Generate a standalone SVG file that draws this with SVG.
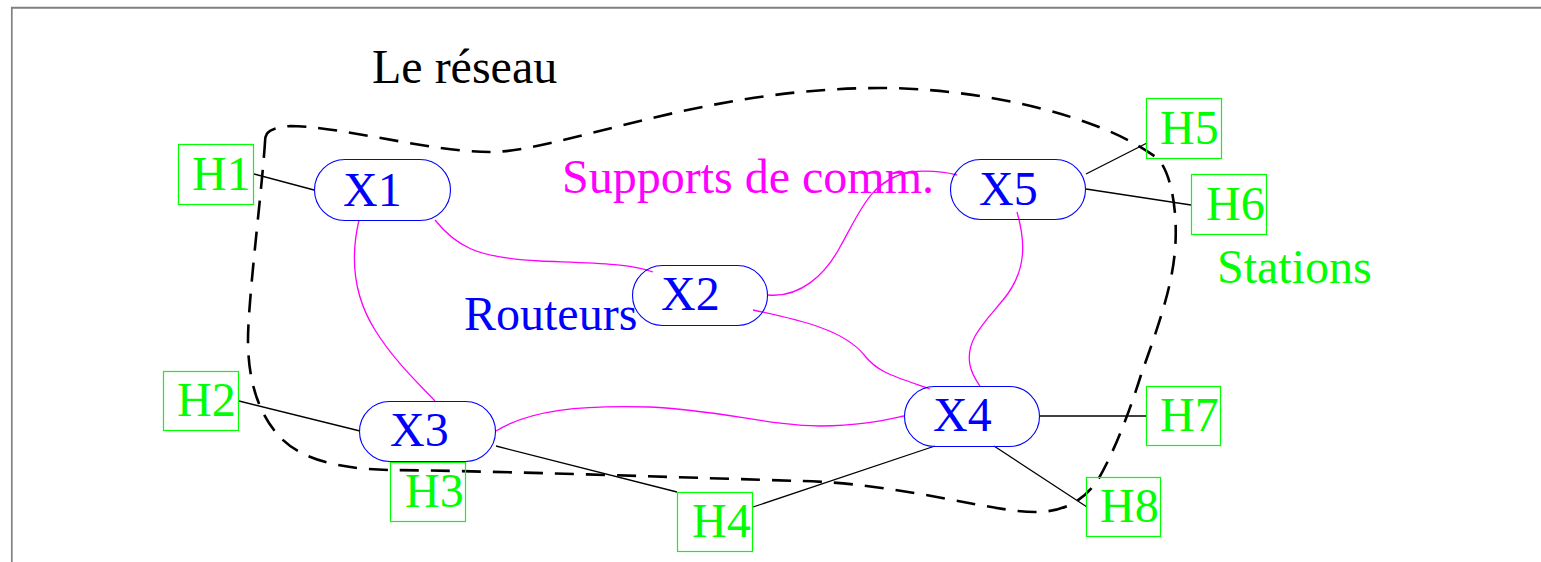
<svg xmlns="http://www.w3.org/2000/svg" width="1541" height="562" viewBox="0 0 1541 562">
<style>
text{font-family:"Liberation Serif","Times New Roman",serif;font-size:48px}
.h rect{fill:none;stroke:#00ff00;stroke-width:1.2}
.h text{fill:#00ff00}
.x rect{fill:none;stroke:#0000ff;stroke-width:1.1}
.x text{fill:#0000ff}
.m{fill:none;stroke:#ff00ff;stroke-width:1.3}
.k{fill:none;stroke:#000;stroke-width:1.3}
</style>
<rect width="1541" height="562" fill="#fff"/>
<g id="frame" stroke="#808080" fill="none">
<line x1="11" y1="7.7" x2="1541" y2="7.7" stroke-width="2"/>
<line x1="11.8" y1="7" x2="11.8" y2="562" stroke-width="1.7"/>
</g>
<g id="network-boundary">
<path d="M 265,142 C 265,133 268,128 290,126 C 340,126 430,152 490,152 C 560,152 700,88 880,88 C 980,88 1100,115 1157,158 C 1172,172 1178,215 1175,250 C 1172,290 1155,335 1141,375 C 1130,410 1115,450 1099,478 C 1085,500 1065,512 1035,512 C 990,512 900,483 800,481 C 700,478 500,471 390,470 C 340,469 300,460 278,435 C 258,412 248,380 248,340 C 248,300 262,190 265,142 Z" fill="none" stroke="#000" stroke-width="2.6" stroke-dasharray="19 12"/>
</g>
<g id="connectors">
<path class="m" d="M 435,220 C 455,245 475,258 540,261 C 590,263 630,263 653,272"/>
<path class="m" d="M 359,220 C 352,250 350,290 375,330 C 395,362 420,385 435,401"/>
<path class="m" d="M 768,295 C 800,298 825,275 840,247 C 860,212 870,180 910,172 C 930,170 945,172 957,175"/>
<path class="m" d="M 753,310 C 800,320 845,330 865,356 C 878,372 890,375 930,389"/>
<path class="m" d="M 496,431 C 530,410 580,405 650,407 C 720,410 770,426 820,426 C 860,426 885,420 904,416"/>
<path class="m" d="M 1017,212 C 1025,240 1028,270 1003,300 C 985,322 965,340 970,365 C 972,375 976,380 980,386"/>
<line class="k" x1="254" y1="174" x2="314" y2="190"/>
<line class="k" x1="239" y1="401" x2="360" y2="431"/>
<line class="k" x1="496" y1="446" x2="677" y2="492"/>
<line class="k" x1="753" y1="507" x2="935" y2="446"/>
<line class="k" x1="994" y1="446" x2="1087" y2="507"/>
<line class="k" x1="1040" y1="416" x2="1146" y2="416"/>
<line class="k" x1="1086" y1="174" x2="1147" y2="143"/>
<line class="k" x1="1086" y1="189" x2="1191" y2="205"/>
</g>
<g id="X1" class="x"><rect x="314.5" y="159.5" width="136" height="61" rx="30.5"/><text x="343" y="206">X1</text></g>
<g id="X2" class="x"><rect x="632.5" y="265.5" width="135" height="60" rx="30"/><text x="661" y="310">X2</text></g>
<g id="X3" class="x"><rect x="359.5" y="401.5" width="136" height="60" rx="30"/><text x="390" y="446">X3</text></g>
<g id="X4" class="x"><rect x="904.5" y="386.5" width="135" height="60" rx="30"/><text x="933" y="431">X4</text></g>
<g id="X5" class="x"><rect x="950.5" y="159.5" width="135" height="60" rx="30"/><text x="979" y="205">X5</text></g>
<g id="H1" class="h"><rect x="178.5" y="144.5" width="75" height="60"/><text x="192" y="190">H1</text></g>
<g id="H2" class="h"><rect x="163.5" y="371.5" width="75" height="59"/><text x="177" y="416">H2</text></g>
<g id="H3" class="h"><rect x="390.5" y="462.5" width="75" height="59"/><text x="405" y="507">H3</text></g>
<g id="H4" class="h"><rect x="677.5" y="492.5" width="75" height="59"/><text x="692" y="537">H4</text></g>
<g id="H5" class="h"><rect x="1146.5" y="98.5" width="75" height="60"/><text x="1160" y="144">H5</text></g>
<g id="H6" class="h"><rect x="1191.5" y="174.5" width="75" height="60"/><text x="1206" y="220">H6</text></g>
<g id="H7" class="h"><rect x="1146.5" y="386.5" width="74" height="59"/><text x="1160" y="431">H7</text></g>
<g id="H8" class="h"><rect x="1086.5" y="477.5" width="74" height="59"/><text x="1100" y="522">H8</text></g>
<g id="labels">
<text x="372" y="83" fill="#000">Le réseau</text>
<text x="562" y="193" fill="#ff00ff">Supports de comm.</text>
<text x="464" y="330" fill="#0000ff">Routeurs</text>
<text x="1217" y="283" fill="#00ff00">Stations</text>
</g>
</svg>
